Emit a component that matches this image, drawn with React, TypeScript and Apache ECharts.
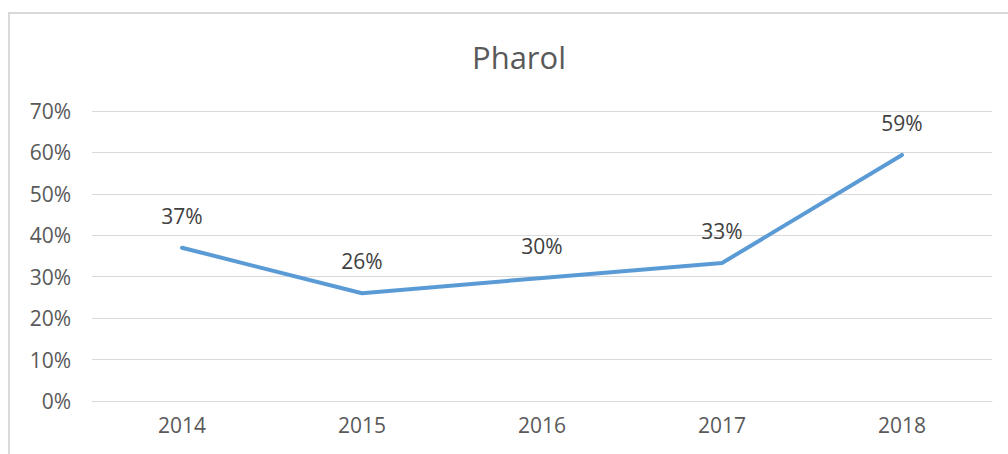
import React, { useEffect, useRef } from "react";
import * as echarts from "echarts";

const categories = ["2014", "2015", "2016", "2017", "2018"];
const values = [37, 26, 29.7, 33.3, 59.4];
const labels = ["37%", "26%", "30%", "33%", "59%"];
const title = "Pharol";

export default function App() {
  const ref = useRef<HTMLDivElement>(null);
  useEffect(() => {
    const chart = echarts.init(ref.current!, null, { renderer: "svg" });
    chart.setOption({
      animation: false,
      backgroundColor: "#ffffff",
      title: {
        text: title,
        left: 514,
        top: 36,
        textAlign: "center",
        textStyle: { fontFamily: "Open Sans", fontSize: 31, fontWeight: "normal", color: "#595959" },
      },
      graphic: [
        {
          type: "rect",
          shape: { x: 9, y: 13, width: 1010, height: 460 },
          style: { fill: "none", stroke: "#d9d9d9", lineWidth: 2 },
          silent: true,
        },
      ],
      grid: { left: 92, right: 16, top: 111, bottom: 53, containLabel: false },
      xAxis: {
        type: "category",
        data: categories,
        boundaryGap: true,
        axisLine: { show: true, lineStyle: { color: "#d9d9d9", width: 1 } },
        axisTick: { show: false },
        axisLabel: { fontFamily: "Open Sans", fontSize: 21, color: "#595959", margin: 13 },
      },
      yAxis: {
        type: "value",
        min: 0,
        max: 70,
        interval: 10,
        axisLine: { show: false },
        axisTick: { show: false },
        splitLine: { lineStyle: { color: "#d9d9d9", width: 1 } },
        axisLabel: {
          fontFamily: "Open Sans",
          fontSize: 21,
          color: "#595959",
          margin: 21,
          formatter: (v: number) => v + "%",
        },
      },
      series: [
        {
          type: "line",
          data: values,
          symbol: "circle",
          symbolSize: 1,
          showSymbol: true,
          itemStyle: { color: "rgba(91,155,213,0)" },
          lineStyle: { color: "#5b9bd5", width: 4, cap: "round", join: "round" },
          label: {
            show: true,
            position: "top",
            distance: 21,
            fontFamily: "Open Sans",
            fontSize: 21,
            color: "#404040",
            formatter: (p: any) => labels[p.dataIndex],
          },
        },
      ],
    });
    return () => chart.dispose();
  }, []);
  return (
    <div
      ref={ref}
      style={{ position: "absolute", left: 0, top: 0, width: 1008, height: 454 }}
    />
  );
}
